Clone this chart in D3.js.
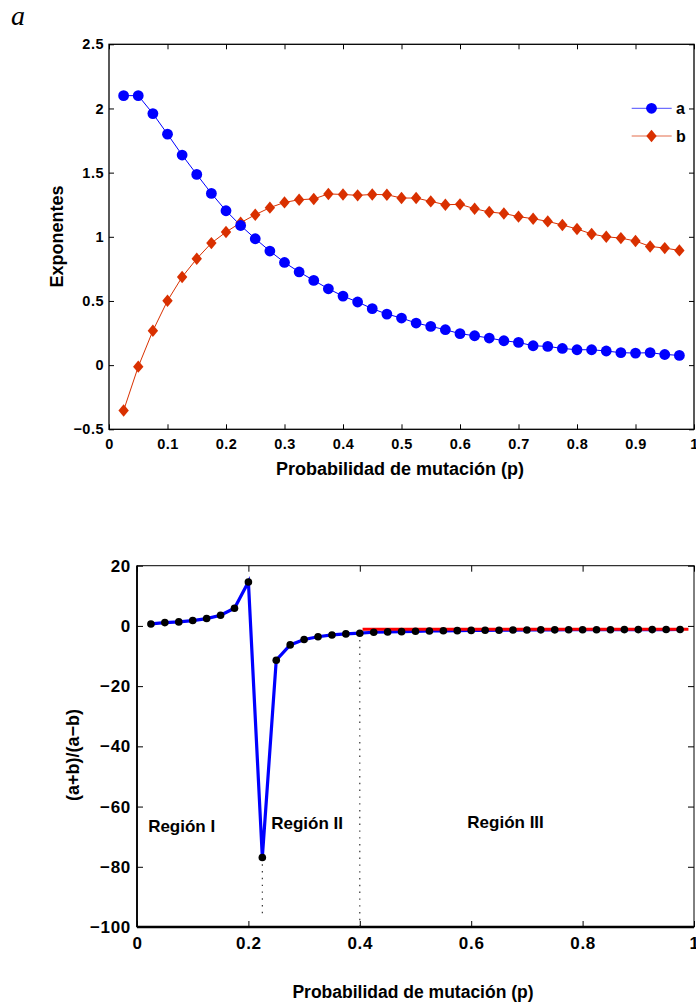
<!DOCTYPE html>
<html>
<head>
<meta charset="utf-8">
<script src="https://cdn.jsdelivr.net/npm/d3@7"></script>
<style>
  html, body { margin: 0; padding: 0; background: #fff; }
  svg { display: block; }
  text { font-family: "Liberation Sans", Arial, Helvetica, sans-serif; font-weight: bold; fill: #000; }
</style>
</head>
<body>
<svg id="chart" width="696" height="1004"></svg>
<script>
// Mutation probability grid
const pValues = [0.025, 0.05, 0.075, 0.1, 0.125, 0.15, 0.175, 0.2, 0.225, 0.25,
  0.275, 0.3, 0.325, 0.35, 0.375, 0.4, 0.425, 0.45, 0.475, 0.5,
  0.525, 0.55, 0.575, 0.6, 0.625, 0.65, 0.675, 0.7, 0.725, 0.75,
  0.775, 0.8, 0.825, 0.85, 0.875, 0.9, 0.925, 0.95, 0.975];

// Exponent a
const seriesA = [2.10, 2.10, 1.96, 1.80, 1.637, 1.486, 1.338, 1.203, 1.088, 0.985,
  0.889, 0.80, 0.726, 0.66, 0.595, 0.538, 0.492, 0.44, 0.398, 0.367,
  0.328, 0.302, 0.276, 0.245, 0.229, 0.211, 0.19, 0.177, 0.151, 0.146,
  0.13, 0.12, 0.12, 0.11, 0.097, 0.094, 0.097, 0.083, 0.076];

// Exponent b
const seriesB = [-0.353, -0.012, 0.268, 0.502, 0.687, 0.829, 0.951, 1.037, 1.11, 1.172,
  1.227, 1.268, 1.289, 1.295, 1.334, 1.33, 1.323, 1.33, 1.328, 1.302,
  1.302, 1.276, 1.25, 1.253, 1.219, 1.193, 1.182, 1.157, 1.141, 1.12,
  1.092, 1.061, 1.022, 1.0, 0.99, 0.967, 0.925, 0.912, 0.894];

// Ratio (a+b)/(a-b)
const seriesRatio = [0.66, 1.1, 1.33, 1.78, 2.44, 3.55, 5.87, 14.6, -76.9, -11.4,
  -6.3, -4.5, -3.6, -3.0, -2.65, -2.42, -2.1, -1.99, -1.9, -1.78,
  -1.67, -1.62, -1.57, -1.49, -1.46, -1.43, -1.38, -1.36, -1.31, -1.30,
  -1.27, -1.26, -1.27, -1.25, -1.22, -1.22, -1.23, -1.20, -1.19];

// Tick labels
const topXTicks = [0, 0.1, 0.2, 0.3, 0.4, 0.5, 0.6, 0.7, 0.8, 0.9, 1];
const topXTickLabels = ["0", "0.1", "0.2", "0.3", "0.4", "0.5", "0.6", "0.7", "0.8", "0.9", "1"];
const topYTicks = [-0.5, 0, 0.5, 1, 1.5, 2, 2.5];
const topYTickLabels = ["\u22120.5", "0", "0.5", "1", "1.5", "2", "2.5"];
const botXTicks = [0, 0.2, 0.4, 0.6, 0.8, 1];
const botXTickLabels = ["0", "0.2", "0.4", "0.6", "0.8", "1"];
const botYTicks = [-100, -80, -60, -40, -20, 0, 20];
const botYTickLabels = ["\u2212100", "\u221280", "\u221260", "\u221240", "\u221220", "0", "20"];

// Region annotations and markers
const regionNames = ["Región I", "Región II", "Región III"];
const regionAnchors = [{p: 0.02, v: -68.5}, {p: 0.241, v: -67.3}, {p: 0.593, v: -67}];
const dividerLines = [{p: 0.225, from: -76.9, to: -96.5}, {p: 0.4, from: -2.42, to: -100}];
const plateau = {from: 0.405, to: 0.99, v: -1.1};

const legendNames = ["a", "b"];

const svg = d3.select("#chart");
const colA = "#0000ff";
const colB = "#d93000";

// ---------- panel label ----------
svg.append("text")
  .attr("x", 11).attr("y", 25)
  .style("font-family", "'Liberation Serif', 'DejaVu Serif', serif")
  .style("font-style", "italic").style("font-weight", "normal")
  .style("font-size", "28px")
  .text("a");

// ---------- top panel ----------
const T = {l: 109, r: 694, t: 44.3, b: 429.3};
const xT = d3.scaleLinear().domain([0, 1]).range([T.l, T.r]);
const yT = d3.scaleLinear().domain([-0.5, 2.5]).range([T.b, T.t]);
const gT = svg.append("g");

function styleAxis(g, size, spacing) {
  g.select(".domain").remove();
  g.selectAll(".tick line").attr("stroke", "#000").attr("stroke-width", 1);
  g.selectAll(".tick text").style("font-size", size + "px")
    .style("letter-spacing", spacing + "px").attr("fill", "#000");
  g.attr("font-family", null).attr("font-size", null);
}

gT.append("g").attr("transform", `translate(0,${T.b})`)
  .call(d3.axisBottom(xT).tickValues(topXTicks).tickSizeInner(-5).tickSizeOuter(0)
    .tickPadding(9).tickFormat((d, i) => topXTickLabels[i]))
  .call(g => styleAxis(g, 14.5, 0.5));
gT.append("g").attr("transform", `translate(0,${T.t})`)
  .call(d3.axisTop(xT).tickValues(topXTicks).tickSizeInner(-5).tickSizeOuter(0).tickFormat(""))
  .call(g => styleAxis(g, 14, 0));
gT.append("g").attr("transform", `translate(${T.l},0)`)
  .call(d3.axisLeft(yT).tickValues(topYTicks).tickSizeInner(-5).tickSizeOuter(0)
    .tickPadding(5).tickFormat((d, i) => topYTickLabels[i]))
  .call(g => styleAxis(g, 14.5, 0.5));
gT.append("g").attr("transform", `translate(${T.r},0)`)
  .call(d3.axisRight(yT).tickValues(topYTicks).tickSizeInner(-5).tickSizeOuter(0).tickFormat(""))
  .call(g => styleAxis(g, 14, 0));
gT.append("rect").attr("x", T.l).attr("y", T.t).attr("width", T.r - T.l).attr("height", T.b - T.t)
  .attr("fill", "none").attr("stroke", "#000").attr("stroke-width", 1.3);

const lineT = (vals) => d3.line().x((d, i) => xT(pValues[i])).y(d => yT(d))(vals);
gT.append("path").attr("d", lineT(seriesA)).attr("fill", "none").attr("stroke", colA).attr("stroke-width", 1);
gT.append("path").attr("d", lineT(seriesB)).attr("fill", "none").attr("stroke", colB).attr("stroke-width", 1);

const diamond = (cx, cy) => `M${cx},${cy - 6.2}L${cx + 5.2},${cy}L${cx},${cy + 6.2}L${cx - 5.2},${cy}Z`;
gT.append("g").selectAll("path").data(seriesB).join("path")
  .attr("d", (d, i) => diamond(xT(pValues[i]), yT(d))).attr("fill", colB);
gT.append("g").selectAll("circle").data(seriesA).join("circle")
  .attr("cx", (d, i) => xT(pValues[i])).attr("cy", d => yT(d)).attr("r", 5.4).attr("fill", colA);

// legend
const legY = [108.3, 136];
legendNames.forEach((name, i) => {
  const c = i === 0 ? colA : colB;
  gT.append("line").attr("x1", 631.7).attr("x2", 671.7).attr("y1", legY[i]).attr("y2", legY[i])
    .attr("stroke", c).attr("stroke-width", 1).attr("opacity", 0.7);
  if (i === 0) gT.append("circle").attr("cx", 651.5).attr("cy", legY[i]).attr("r", 5.4).attr("fill", c);
  else gT.append("path").attr("d", diamond(651.5, legY[i])).attr("fill", c);
  gT.append("text").attr("x", 676).attr("y", legY[i] + 5.5).style("font-size", "16px").text(name);
});

gT.append("text").attr("x", (T.l + T.r) / 2 - 1.5).attr("y", 474.5)
  .attr("text-anchor", "middle").style("font-size", "18px")
  .text("Probabilidad de mutación (p)");
gT.append("text").attr("transform", `translate(63,236.5) rotate(-90)`)
  .attr("text-anchor", "middle").style("font-size", "18px").text("Exponentes");

// ---------- bottom panel ----------
const B = {l: 137, r: 694, t: 565.7, b: 927};
const xB = d3.scaleLinear().domain([0, 1]).range([B.l, B.r]);
const yB = d3.scaleLinear().domain([-100, 20]).range([B.b, B.t]);
const gB = svg.append("g");

gB.append("g").attr("transform", `translate(0,${B.b})`)
  .call(d3.axisBottom(xB).tickValues(botXTicks).tickSizeInner(-6).tickSizeOuter(0)
    .tickPadding(10).tickFormat((d, i) => botXTickLabels[i]))
  .call(g => styleAxis(g, 17, 0.7));
gB.append("g").attr("transform", `translate(0,${B.t})`)
  .call(d3.axisTop(xB).tickValues(botXTicks).tickSizeInner(-6).tickSizeOuter(0).tickFormat(""))
  .call(g => styleAxis(g, 17, 0));
gB.append("g").attr("transform", `translate(${B.l},0)`)
  .call(d3.axisLeft(yB).tickValues(botYTicks).tickSizeInner(-6).tickSizeOuter(0)
    .tickPadding(6).tickFormat((d, i) => botYTickLabels[i]))
  .call(g => styleAxis(g, 17, 0.7));
gB.append("g").attr("transform", `translate(${B.r},0)`)
  .call(d3.axisRight(yB).tickValues(botYTicks).tickSizeInner(-6).tickSizeOuter(0).tickFormat(""))
  .call(g => styleAxis(g, 17, 0));
gB.append("rect").attr("x", B.l).attr("y", B.t).attr("width", B.r - B.l).attr("height", B.b - B.t)
  .attr("fill", "none").attr("stroke", "#000").attr("stroke-width", 1);
gB.append("line").attr("x1", B.l).attr("x2", B.r).attr("y1", B.b).attr("y2", B.b)
  .attr("stroke", "#000").attr("stroke-width", 2.4);
gB.append("line").attr("x1", B.l).attr("x2", B.l).attr("y1", B.t).attr("y2", B.b)
  .attr("stroke", "#000").attr("stroke-width", 1.8);

// dotted dividers
dividerLines.forEach(d => {
  gB.append("line").attr("x1", xB(d.p)).attr("x2", xB(d.p)).attr("y1", yB(d.from)).attr("y2", yB(d.to))
    .attr("stroke", "#222").attr("stroke-width", 1.1).attr("stroke-dasharray", "1.4,5.4");
});

const lineB = d3.line().x((d, i) => xB(pValues[i])).y(d => yB(d));
gB.append("path").attr("d", lineB(seriesRatio)).attr("fill", "none")
  .attr("stroke", colA).attr("stroke-width", 3.2).attr("stroke-linejoin", "miter");

gB.append("line").attr("x1", xB(plateau.from)).attr("x2", xB(plateau.to))
  .attr("y1", yB(plateau.v)).attr("y2", yB(plateau.v))
  .attr("stroke", "#ff0000").attr("stroke-width", 3);

gB.append("g").selectAll("circle").data(seriesRatio).join("circle")
  .attr("cx", (d, i) => xB(pValues[i])).attr("cy", d => yB(d)).attr("r", 3.8).attr("fill", "#000");

regionNames.forEach((name, i) => {
  gB.append("text").attr("x", xB(regionAnchors[i].p)).attr("y", yB(regionAnchors[i].v))
    .style("font-size", "17px").text(name);
});

gB.append("text").attr("x", 413).attr("y", 998)
  .attr("text-anchor", "middle").style("font-size", "17.5px")
  .text("Probabilidad de mutación (p)");
gB.append("text").attr("transform", `translate(79,755) rotate(-90)`)
  .attr("text-anchor", "middle").style("font-size", "18px").text("(a+b)/(a\u2212b)");
</script>
</body>
</html>
